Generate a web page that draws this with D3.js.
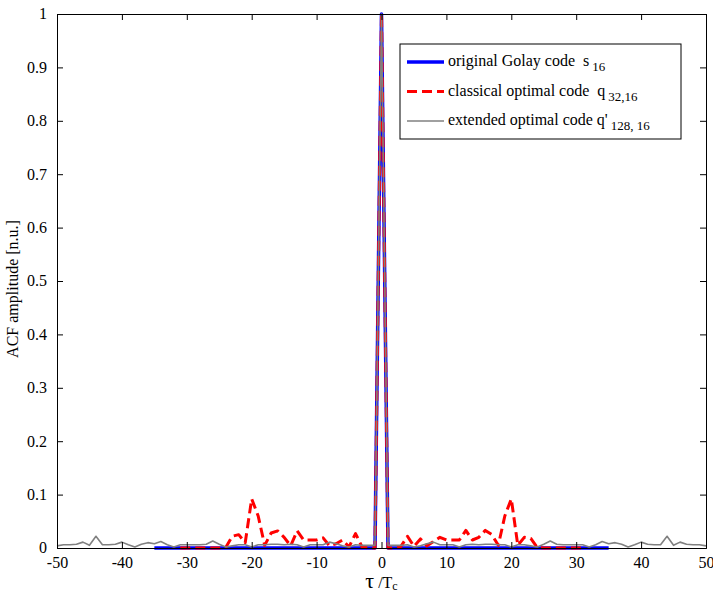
<!DOCTYPE html>
<html>
<head>
<meta charset="utf-8">
<script src="https://cdn.jsdelivr.net/npm/d3@7"></script>
<style>
  body { margin: 0; background: #fff; }
  text { font-family: "Liberation Serif", "Times New Roman", serif; }
</style>
</head>
<body>
<svg width="713" height="593"></svg>
<script>
var margin = {top: 14, right: 7, bottom: 45, left: 57};
var width = 713 - margin.left - margin.right;
var height = 593 - margin.top - margin.bottom;

// Data
var xTicks = [-50, -40, -30, -20, -10, 0, 10, 20, 30, 40, 50];
var yTicks = [0, 0.1, 0.2, 0.3, 0.4, 0.5, 0.6, 0.7, 0.8, 0.9, 1];

// original Golay code s16
var golayTau = [-35, -1, 0, 1, 35];
var golayAcf = [0, 0, 1, 0, 0];

// classical optimal code q32,16
var classicTau = [-31, -30, -29, -28, -27, -26, -25, -24, -23, -22, -21, -20, -19, -18, -17, -16,
    -15, -14, -13, -12, -11, -10, -9, -8, -7, -6, -5, -4, -3, -2, -1, 0,
    1, 2, 3, 4, 5, 6, 7, 8, 9, 10, 11, 12, 13, 14, 15, 16,
    17, 18, 19, 20, 21, 22, 23, 24, 25, 26, 27, 28, 29, 30, 31];
var classicAcf = [0, 0, 0, 0, 0, 0, 0, 0.001, 0.022, 0.025, 0.010, 0.092, 0.060, 0.005, 0.028, 0.032,
    0.020, 0.004, 0.032, 0.015, 0.015, 0.015, 0.019, 0.004, 0.008, 0.015, 0.002, 0.027, 0.002, 0, 0, 1,
    0, 0, 0.003, 0.022, 0.003, 0.017, 0.004, 0.012, 0.020, 0.015, 0.015, 0.015, 0.033, 0.015, 0.020, 0.033,
    0.025, 0.005, 0.060, 0.092, 0.005, 0.020, 0.018, 0.001, 0, 0, 0, 0, 0, 0, 0];

// extended optimal code q'128,16
var extendedTau = [-50, -49, -48, -47, -46, -45, -44, -43, -42, -41, -40, -39, -38, -37, -36, -35, -34,
    -33, -32, -31, -30, -29, -28, -27, -26, -25, -24, -23, -22, -21, -20, -19, -18,
    -17, -16, -15, -14, -13, -12, -11, -10, -9, -8, -7, -6, -5, -4, -3, -2, -1, 0,
    1, 2, 3, 4, 5, 6, 7, 8, 9, 10, 11, 12, 13, 14, 15, 16, 17,
    18, 19, 20, 21, 22, 23, 24, 25, 26, 27, 28, 29, 30, 31, 32, 33, 34,
    35, 36, 37, 38, 39, 40, 41, 42, 43, 44, 45, 46, 47, 48, 49, 50];
var extendedAcf = [0.004, 0.006, 0.006, 0.007, 0.011, 0.005, 0.022, 0.006, 0.006, 0.007, 0.011, 0.006, 0.002, 0.007, 0.010, 0.008, 0.012,
    0.006, 0.002, 0.006, 0.006, 0.006, 0.006, 0.007, 0.013, 0.007, 0.002, 0.004, 0.006, 0.006, 0.002, 0.006, 0.006,
    0.007, 0.007, 0.006, 0.007, 0.006, 0.002, 0.006, 0.006, 0.006, 0.011, 0.008, 0.004, 0.002, 0.006, 0.005, 0.005, 0.005, 1,
    0.005, 0.005, 0.005, 0.006, 0.002, 0.004, 0.008, 0.011, 0.006, 0.006, 0.006, 0.002, 0.006, 0.007, 0.006, 0.007, 0.007,
    0.006, 0.006, 0.002, 0.006, 0.006, 0.004, 0.002, 0.007, 0.013, 0.007, 0.006, 0.006, 0.006, 0.006, 0.002, 0.006, 0.012,
    0.008, 0.010, 0.007, 0.002, 0.006, 0.011, 0.007, 0.006, 0.006, 0.022, 0.005, 0.011, 0.007, 0.006, 0.006, 0.004];

var svg = d3.select("svg")
    .append("g")
    .attr("transform", "translate(" + margin.left + "," + margin.top + ")");

// Scales
var xscale = d3.scaleLinear().domain([-50, 50]).range([0, width]);
var yscale = d3.scaleLinear().domain([0, 1]).range([height, 0]);

// Series lines
var line = d3.line()
    .x(function(d) { return xscale(d[0]); })
    .y(function(d) { return yscale(d[1]); });

function pairs(tau, acf) {
    return tau.map(function(t, i) { return [t, acf[i]]; });
}

var series = [
    {name: "golay", data: pairs(golayTau, golayAcf), color: "#0000ff", w: 3.5, dash: null},
    {name: "classic", data: pairs(classicTau, classicAcf), color: "#ff0000", w: 3, dash: "10,5"},
    {name: "extended", data: pairs(extendedTau, extendedAcf), color: "#808080", w: 1.6, dash: null}
];

svg.append("g")
    .selectAll("path")
    .data(series)
    .enter().append("path")
    .attr("d", function(d) { return line(d.data); })
    .attr("fill", "none")
    .attr("stroke", function(d) { return d.color; })
    .attr("stroke-width", function(d) { return d.w; })
    .attr("stroke-dasharray", function(d) { return d.dash; })
    .attr("stroke-linejoin", "round");

// Axes, MATLAB style (ticks inside, box on)
var tickLen = 6;
var plainFormat = function(d) { return String(d); }; // hyphen minus like the original

var axBottom = svg.append("g")
    .attr("transform", "translate(0," + height + ")")
    .call(d3.axisBottom(xscale).tickValues(xTicks).tickSize(-tickLen).tickPadding(9).tickFormat(plainFormat));

var axTop = svg.append("g")
    .call(d3.axisTop(xscale).tickValues(xTicks).tickSize(-tickLen).tickFormat(""));

var axLeft = svg.append("g")
    .call(d3.axisLeft(yscale).tickValues(yTicks).tickSize(-tickLen).tickPadding(10).tickFormat(plainFormat));

var axRight = svg.append("g")
    .attr("transform", "translate(" + width + ",0)")
    .call(d3.axisRight(yscale).tickValues(yTicks).tickSize(-tickLen).tickFormat(""));

[axBottom, axTop, axLeft, axRight].forEach(function(a) {
    a.attr("font-family", null);
    a.select(".domain").attr("stroke", "#000").attr("stroke-width", 1);
    a.selectAll(".tick line").attr("stroke", "#000");
    a.selectAll("text")
        .style("font-family", "'Liberation Serif', serif")
        .attr("font-size", 16)
        .attr("fill", "#000");
});
axLeft.selectAll("text").attr("dy", "0.3em");

// Axis labels
svg.append("text")
    .attr("transform", "translate(" + (18 - margin.left) + "," + (height / 2 + 8) + ") rotate(-90)")
    .attr("text-anchor", "middle")
    .attr("font-size", 16)
    .text("ACF amplitude [n.u.]");

var xlab = svg.append("text")
    .attr("x", xscale(0))
    .attr("y", height + 40)
    .attr("text-anchor", "middle")
    .attr("font-size", 16);
xlab.append("tspan").attr("font-size", 22).text("\u03C4");
xlab.append("tspan").text(" /T");
xlab.append("tspan").attr("font-size", 12).attr("dy", 2).text("c");

// Legend
var legX = 400 - margin.left;
var legY = 44 - margin.top;
var legend = svg.append("g")
    .attr("transform", "translate(" + legX + "," + legY + ")");

legend.append("rect")
    .attr("width", 281)
    .attr("height", 95)
    .attr("fill", "#fff")
    .attr("stroke", "#000")
    .attr("stroke-width", 1);

var labels = [
    ["original Golay code  s", "16"],
    ["classical optimal code  q", "32,16"],
    ["extended optimal code q'", "128, 16"]
];

var item = legend.selectAll("g.item")
    .data(series)
    .enter().append("g")
    .attr("class", "item")
    .attr("transform", function(d, i) { return "translate(0," + (18 + i * 29.5) + ")"; });

item.append("line")
    .attr("x1", 7)
    .attr("x2", 44)
    .attr("stroke", function(d) { return d.color; })
    .attr("stroke-width", function(d) { return d.w; })
    .attr("stroke-dasharray", function(d) { return d.dash; });

var itemText = item.append("text")
    .attr("x", 48)
    .attr("y", 4)
    .attr("font-size", 16)
    .attr("xml:space", "preserve");
itemText.append("tspan").text(function(d, i) { return labels[i][0]; });
itemText.append("tspan")
    .attr("font-size", 13)
    .attr("dy", 5)
    .attr("dx", 3)
    .text(function(d, i) { return labels[i][1]; });
</script>
</body>
</html>
